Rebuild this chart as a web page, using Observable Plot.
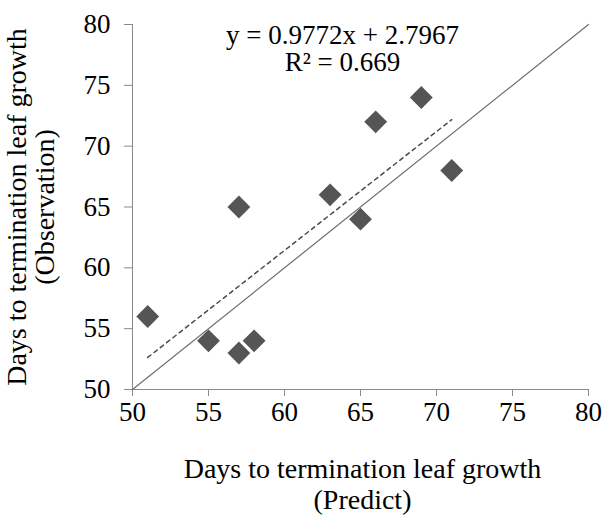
<!DOCTYPE html>
<html>
<head>
<meta charset="utf-8">
<script src="https://cdn.jsdelivr.net/npm/d3@7"></script>
<script src="https://cdn.jsdelivr.net/npm/@observablehq/plot@0.6"></script>
<style>
  html, body { margin: 0; padding: 0; background: #fff; }
  #chart svg { display: block; }
</style>
</head>
<body>
<div id="chart"></div>
<script>
// Data
const predicted = [51, 55, 57, 57, 58, 63, 65, 66, 69, 71];
const observed  = [56, 54, 53, 65, 54, 66, 64, 72, 74, 68];
const slope = 0.9772;
const intercept = 2.7967;
const fitX = [51, 71];
const oneToOne = [50, 80];
const ticks = [50, 55, 60, 65, 70, 75, 80];
const equationLines = ["y = 0.9772x + 2.7967", "R² = 0.669"];
const xTitle = "Days to termination leaf growth\n(Predict)";
const yTitle = "Days to termination leaf growth\n(Observation)";

const points = predicted.map((x, i) => ({x, y: observed[i]}));
const fit = fitX.map(x => ({x, y: slope * x + intercept}));
const diag = oneToOne.map(v => ({x: v, y: v}));

const font = "Liberation Serif, Times New Roman, serif";
const fs = 27;
const fsTitle = 28;

const chart = Plot.plot({
  width: 603,
  height: 516,
  marginLeft: 132,
  marginRight: 15,
  marginTop: 24,
  marginBottom: 127,
  style: {fontFamily: font, fontSize: fs + "px", background: "#fff", overflow: "visible"},
  x: {domain: [50, 80]},
  y: {domain: [50, 80]},
  marks: [
    Plot.axisX({ticks, tickSize: 7, tickPadding: 5, stroke: "#8a8a8a", fill: "black", label: null, fontSize: fs}),
    Plot.axisY({ticks, tickSize: 8, tickPadding: 14, stroke: "#8a8a8a", fill: "black", label: null, fontSize: fs}),
    Plot.ruleY([50], {stroke: "#8a8a8a"}),
    Plot.ruleX([50], {stroke: "#8a8a8a"}),
    Plot.line(diag, {x: "x", y: "y", stroke: "#6e6e6e", strokeWidth: 1.2}),
    Plot.line(fit, {x: "x", y: "y", stroke: "#4a4a4a", strokeWidth: 1.5, strokeDasharray: "4,4"}),
    Plot.dot(points, {x: "x", y: "y", symbol: "diamond2", r: 10.3, fill: "#555555", stroke: "none"}),
    Plot.text([equationLines.join("\n")], {
      frameAnchor: "top", dx: -18, dy: 0, lineAnchor: "top", lineHeight: 1.0,
      fontSize: fs, fill: "black", fontFamily: font
    }),
    Plot.text([xTitle], {
      frameAnchor: "bottom", dx: 2, dy: 67, lineAnchor: "top", lineHeight: 1.1,
      fontSize: fsTitle, fill: "black", fontFamily: font
    }),
    Plot.text([yTitle], {
      frameAnchor: "left", dx: -126, rotate: -90, textAnchor: "middle", lineAnchor: "top", lineHeight: 1.0,
      fontSize: fsTitle, fill: "black", fontFamily: font
    })
  ]
});
document.getElementById("chart").appendChild(chart);
</script>
</body>
</html>
